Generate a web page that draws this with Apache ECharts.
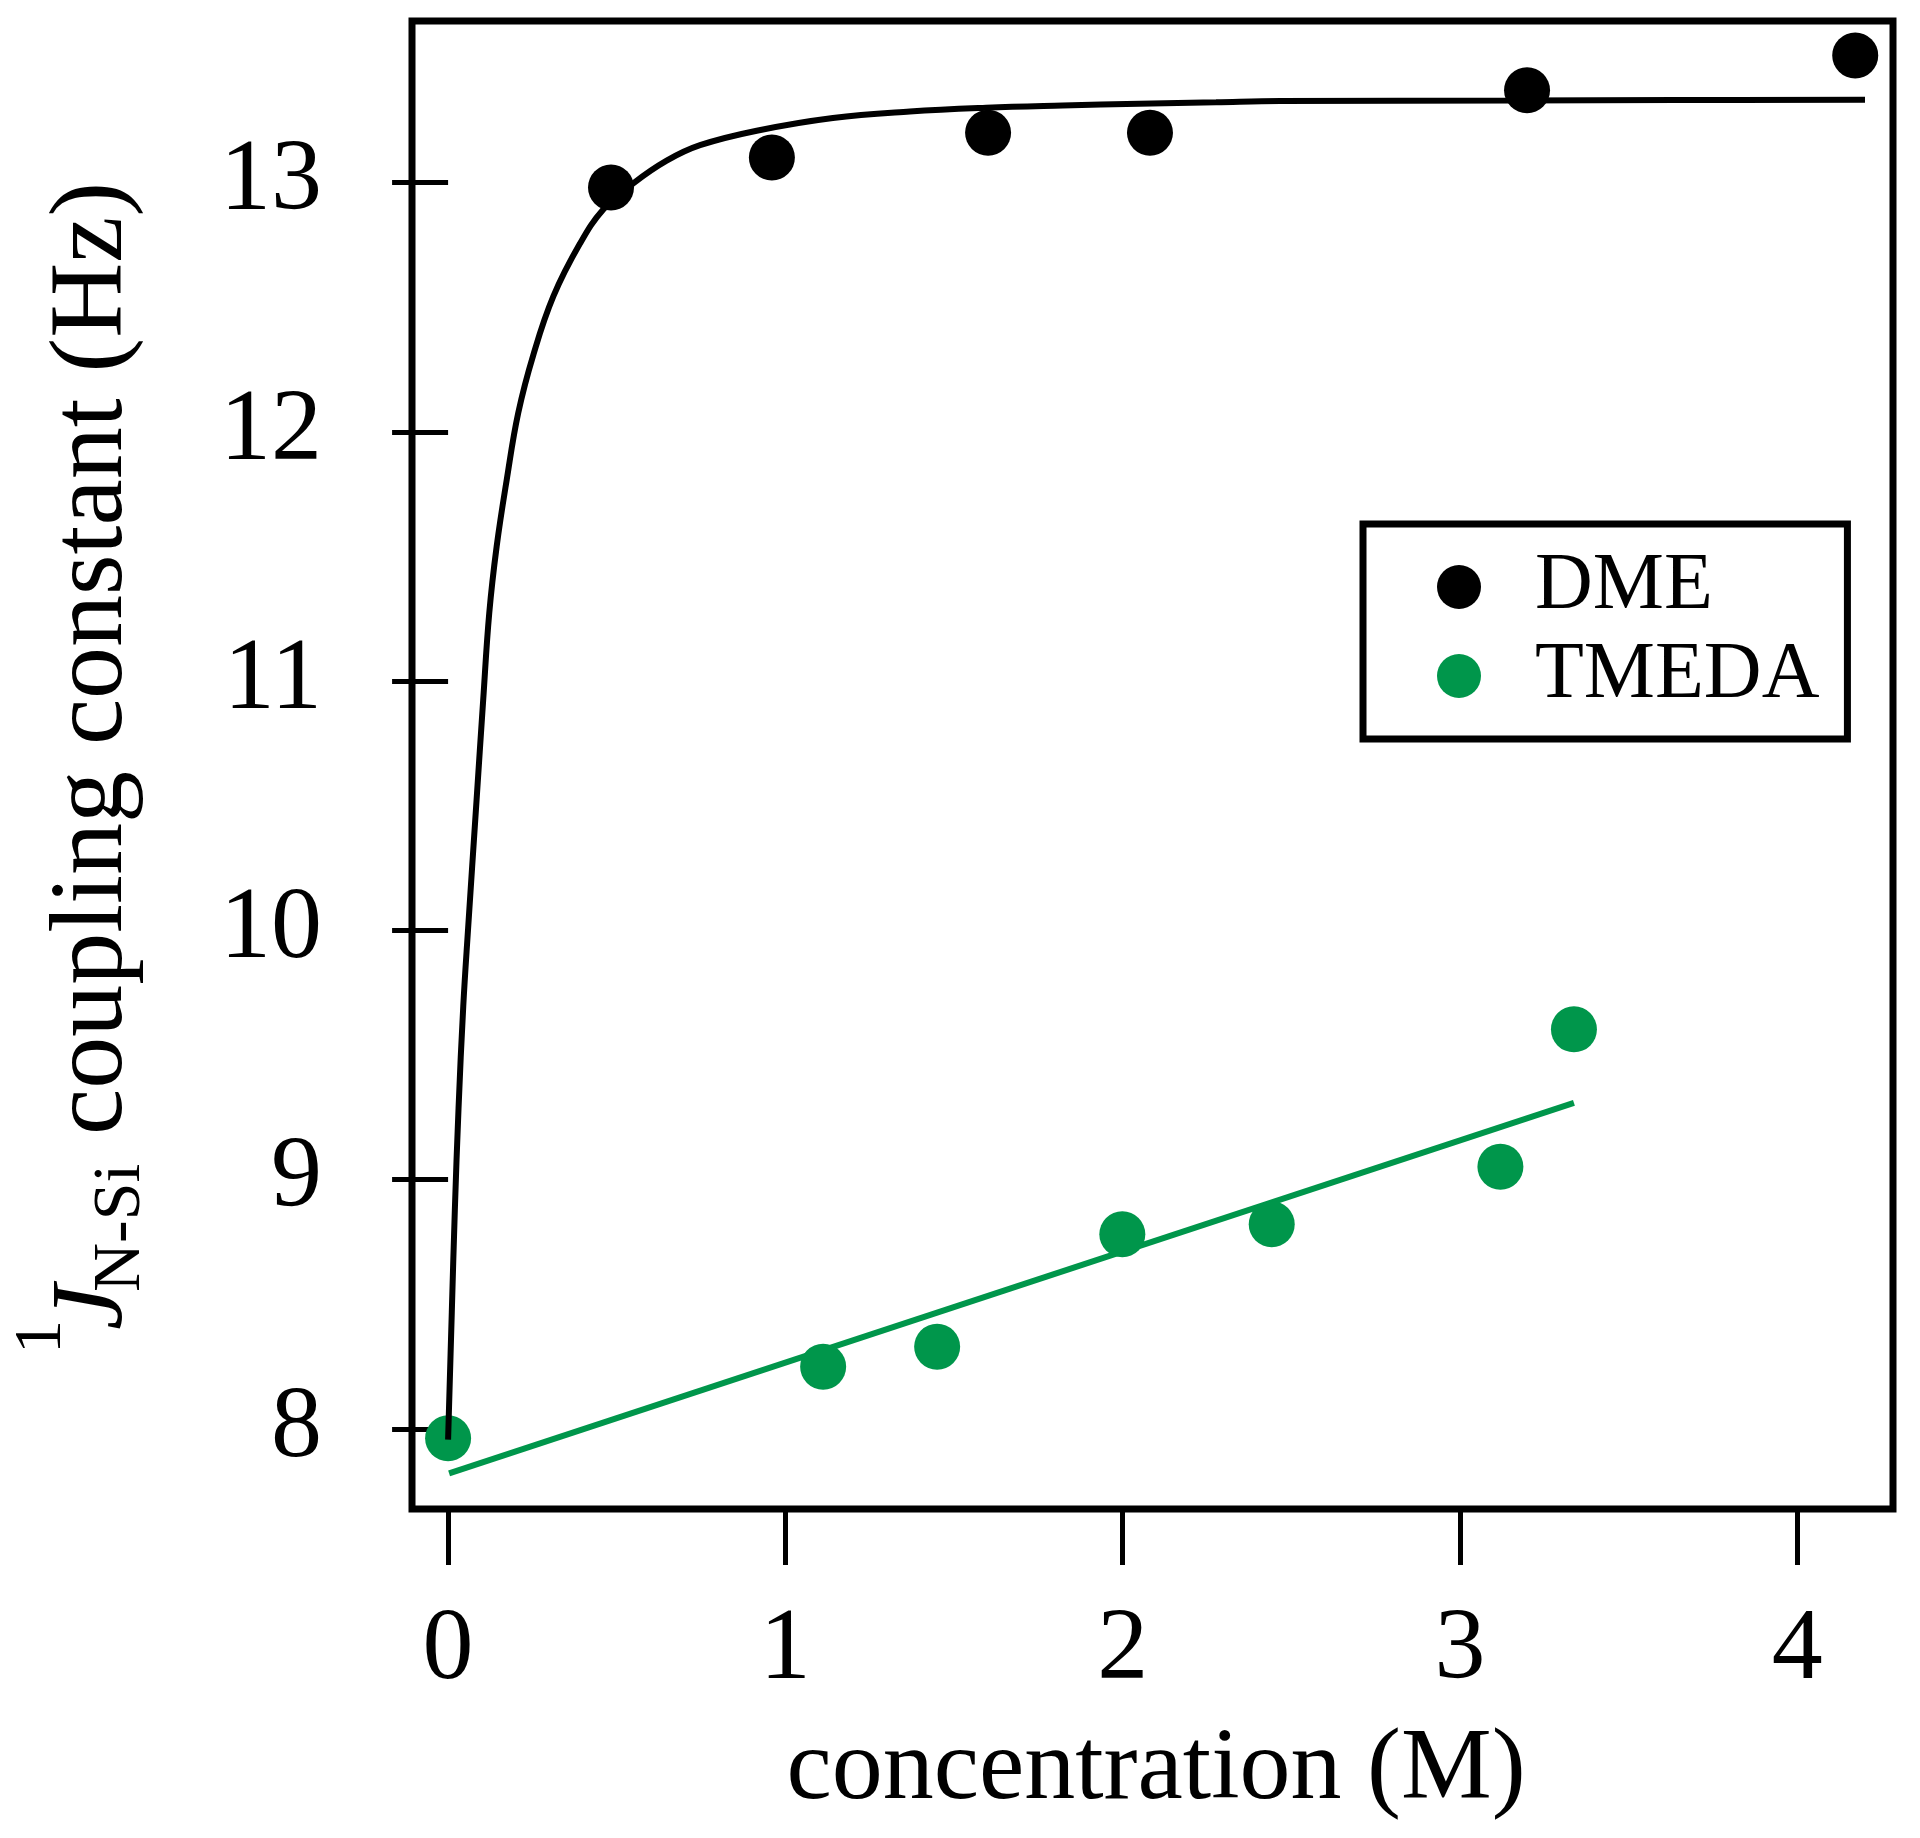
<!DOCTYPE html>
<html>
<head>
<meta charset="utf-8">
<script src="https://cdn.jsdelivr.net/npm/echarts@6/dist/echarts.min.js"></script>
<style>
  html, body { margin: 0; padding: 0; background: #fff; }
  #main { width: 1920px; height: 1838px; }
</style>
</head>
<body>
<div id="main"></div>
<script>
// tick labels
var xTicks = [0, 1, 2, 3, 4];
var yTicks = [8, 9, 10, 11, 12, 13];

// measured points
var dmeConc = [0.483, 0.960, 1.601, 2.081, 3.199, 4.172];
var dmeJ    = [12.98, 13.10, 13.20, 13.20, 13.37, 13.51];
var tmedaConc = [0.0, 1.112, 1.450, 1.999, 2.442, 3.120, 3.338];
var tmedaJ    = [7.963, 8.250, 8.330, 8.781, 8.821, 9.052, 9.603];

// fit curves
var dmeFitConc = [0, 0.011, 0.020, 0.031, 0.045, 0.059, 0.084, 0.104, 0.122, 0.144, 0.174, 0.208,
                  0.253, 0.312, 0.391, 0.460, 0.548, 0.648, 0.747, 0.915, 1.141, 1.369, 1.595,
                  1.822, 2.049, 2.277, 2.467, 3.169, 3.638, 4.201];
var dmeFitJ    = [7.957, 8.469, 8.878, 9.287, 9.696, 10.001, 10.514, 10.923, 11.272, 11.540, 11.809, 12.076,
                  12.310, 12.543, 12.755, 12.892, 12.996, 13.088, 13.150, 13.208, 13.259, 13.285, 13.300,
                  13.309, 13.316, 13.322, 13.327, 13.329, 13.331, 13.332];
var tmedaFitConc = [0.003, 3.338];
var tmedaFitJ    = [7.822, 9.308];

var GREEN = '#00964b';
var FONT = 'Liberation Serif';

function zip(a, b) {
  return a.map(function (v, i) { return [v, b[i]]; });
}

var chart = echarts.init(document.getElementById('main'));

// y axis title pieces, laid along the rotated baseline
var yTitle = {
  type: 'group',
  x: 125,
  y: 1354,
  rotation: Math.PI / 2,
  children: [
    { type: 'text', x: 0, y: -62 - 0.305 * 68,
      style: { text: '1', font: '68px "' + FONT + '"', fill: '#000', textAlign: 'left', textVerticalAlign: 'middle' } },
    { type: 'text', x: 24, y: -0.305 * 102,
      style: { text: 'J', font: 'italic 102px "' + FONT + '"', fill: '#000', textAlign: 'left', textVerticalAlign: 'middle' } },
    { type: 'text', x: 62, y: 17 - 0.305 * 68,
      style: { text: 'N-Si', font: '68px "' + FONT + '"', fill: '#000', textAlign: 'left', textVerticalAlign: 'middle' } },
    { type: 'text', x: 219, y: -0.305 * 104,
      style: { text: 'coupling constant (Hz)', font: '104px "' + FONT + '"', fill: '#000', textAlign: 'left', textVerticalAlign: 'middle' } }
  ]
};

var option = {
  backgroundColor: '#fff',
  animation: false,
  grid: {
    left: 412, right: 27, top: 21, bottom: 329,
    show: true, borderColor: '#000', borderWidth: 7, backgroundColor: 'transparent'
  },
  xAxis: {
    type: 'value',
    min: -0.107, max: 4.284,
    splitLine: { show: false },
    axisLine: { show: false },
    axisTick: { show: true, inside: false, length: 56, lineStyle: { color: '#000', width: 5 }, customValues: xTicks },
    axisLabel: { show: true, margin: 91, fontFamily: FONT, fontSize: 102, color: '#000', customValues: xTicks }
  },
  yAxis: {
    type: 'value',
    min: 7.679, max: 13.648,
    splitLine: { show: false },
    axisLine: { show: false },
    axisTick: { show: true, inside: false, length: 56, lineStyle: { color: '#000', width: 5 }, customValues: yTicks },
    axisLabel: { show: true, margin: 90, fontFamily: FONT, fontSize: 102, color: '#000', customValues: yTicks }
  },
  legend: {
    data: ['DME', 'TMEDA'],
    orient: 'vertical',
    left: 1363, top: 524,
    padding: [23, 28, 23, 74],
    itemGap: 9,
    itemWidth: 44, itemHeight: 44,
    icon: 'circle',
    borderColor: '#000', borderWidth: 7,
    backgroundColor: '#fff',
    itemStyle: { opacity: 1 },
    textStyle: { fontFamily: FONT, fontSize: 80, color: '#000', padding: [0, 0, 0, 49] }
  },
  graphic: [
    yTitle,
    { type: 'text', x: 1156, y: 1802 - 0.305 * 102,
      style: { text: 'concentration (M)', font: '102px "' + FONT + '"', fill: '#000', textAlign: 'center', textVerticalAlign: 'middle' } }
  ],
  series: [
    {
      name: 'TMEDA fit', type: 'line', data: zip(tmedaFitConc, tmedaFitJ),
      showSymbol: false, symbol: 'none', z: 2,
      lineStyle: { color: GREEN, width: 6 }
    },
    {
      name: 'TMEDA', type: 'scatter', data: zip(tmedaConc, tmedaJ),
      symbol: 'circle', symbolSize: 46, z: 3,
      itemStyle: { color: GREEN, opacity: 1 }
    },
    {
      name: 'DME fit', type: 'line', data: zip(dmeFitConc, dmeFitJ),
      showSymbol: false, symbol: 'none', z: 4,
      smooth: 0.4,
      lineStyle: { color: '#000', width: 6 }
    },
    {
      name: 'DME', type: 'scatter', data: zip(dmeConc, dmeJ),
      symbol: 'circle', symbolSize: 46, z: 5,
      itemStyle: { color: '#000', opacity: 1 }
    }
  ]
};

chart.setOption(option);
</script>
</body>
</html>
